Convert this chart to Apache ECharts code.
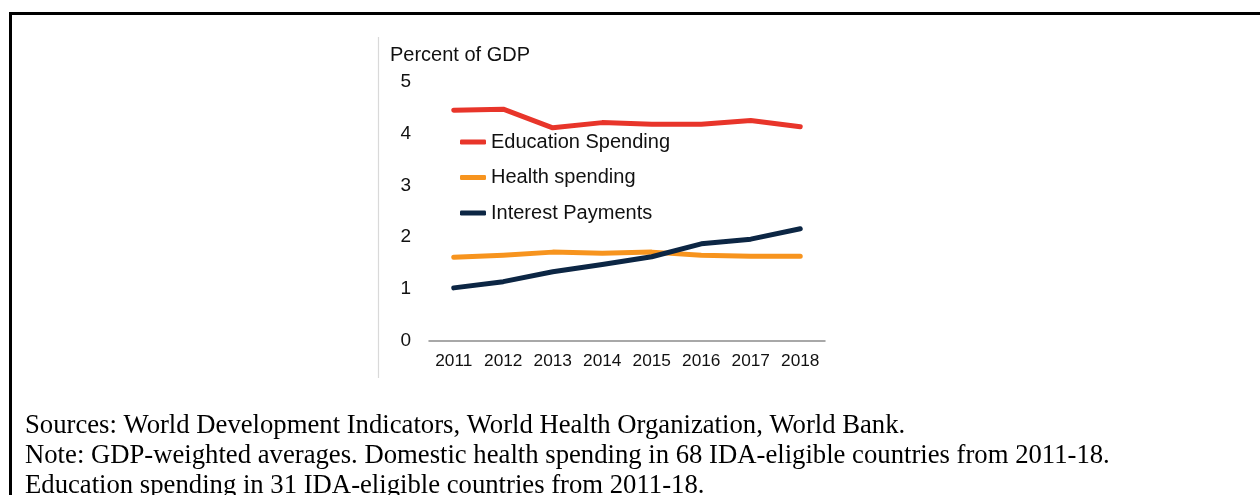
<!DOCTYPE html>
<html>
<head>
<meta charset="utf-8">
<script src="https://cdn.jsdelivr.net/npm/echarts@6/dist/echarts.min.js"></script>
<style>
  html, body { margin: 0; padding: 0; background: #fff; }
  #frame { position: absolute; left: 9px; top: 12px; width: 1260px; height: 500px;
           border-top: 3px solid #000; border-left: 3px solid #000; box-sizing: border-box; }
  #chart { position: absolute; left: 0; top: 0; width: 1260px; height: 495px; }
</style>
</head>
<body>
<div id="frame"></div>
<div id="chart"></div>
<script>
const years = ['2011', '2012', '2013', '2014', '2015', '2016', '2017', '2018'];
const educationSpending = [4.45, 4.47, 4.11, 4.21, 4.18, 4.18, 4.25, 4.13];
const healthSpending = [1.61, 1.65, 1.71, 1.69, 1.71, 1.65, 1.63, 1.63];
const interestPayments = [1.02, 1.14, 1.33, 1.47, 1.62, 1.87, 1.96, 2.16];
const yTicks = [0, 1, 2, 3, 4, 5];
const axisTitle = 'Percent of GDP';
const captionLines = [
  'Sources: World Development Indicators, World Health Organization, World Bank.',
  'Note: GDP-weighted averages. Domestic health spending in 68 IDA-eligible countries from 2011-18.',
  'Education spending in 31 IDA-eligible countries from 2011-18.'
];

const chart = echarts.init(document.getElementById('chart'), null, { renderer: 'canvas' });
const sans = 'Liberation Sans, Arial, sans-serif';
const serif = 'Liberation Serif, Times New Roman, serif';

chart.setOption({
  backgroundColor: 'transparent',
  animation: false,
  title: [
    { text: axisTitle, left: 390, top: 45, padding: 0,
      textStyle: { fontFamily: sans, fontSize: 20, fontWeight: 'normal', color: '#111' } },
    { text: captionLines.join('\n'), left: 25, top: 411, padding: 0,
      textStyle: { fontFamily: serif, fontSize: 26.7, fontWeight: 'normal', color: '#000', lineHeight: 30 } }
  ],
  grid: { left: 429, right: 435, top: 81.7, bottom: 154.3, containLabel: false },
  legend: {
    orient: 'vertical',
    left: 460, top: 132, padding: 0,
    itemWidth: 26, itemHeight: 5, itemGap: 15.5,
    icon: 'roundRect',
    textStyle: { fontFamily: sans, fontSize: 20, color: '#111', lineHeight: 20 },
    data: ['Education Spending', 'Health spending', 'Interest Payments']
  },
  xAxis: {
    type: 'category',
    data: years,
    boundaryGap: true,
    axisLine: { lineStyle: { color: '#8c8c8c', width: 1.5 } },
    axisTick: { show: false },
    axisLabel: { interval: 0, hideOverlap: false, fontFamily: sans, fontSize: 17.3, color: '#111', margin: 12 }
  },
  yAxis: {
    type: 'value',
    min: yTicks[0], max: yTicks[yTicks.length - 1], interval: 1,
    axisLine: { show: false },
    axisTick: { show: false },
    splitLine: { show: false },
    axisLabel: { fontFamily: sans, fontSize: 19, color: '#111', margin: 18 }
  },
  graphic: [
    { type: 'line', shape: { x1: 378.5, y1: 37, x2: 378.5, y2: 378 },
      style: { stroke: '#d9d9d9', lineWidth: 1.2 }, silent: true }
  ],
  series: [
    { name: 'Education Spending', type: 'line', data: educationSpending,
      symbol: 'none', lineStyle: { color: '#E8352A', width: 5, cap: 'round', join: 'round' },
      itemStyle: { color: '#E8352A' } },
    { name: 'Health spending', type: 'line', data: healthSpending,
      symbol: 'none', lineStyle: { color: '#F7941E', width: 5, cap: 'round', join: 'round' },
      itemStyle: { color: '#F7941E' } },
    { name: 'Interest Payments', type: 'line', data: interestPayments,
      symbol: 'none', lineStyle: { color: '#0C2644', width: 5, cap: 'round', join: 'round' },
      itemStyle: { color: '#0C2644' } }
  ]
});
</script>
</body>
</html>
